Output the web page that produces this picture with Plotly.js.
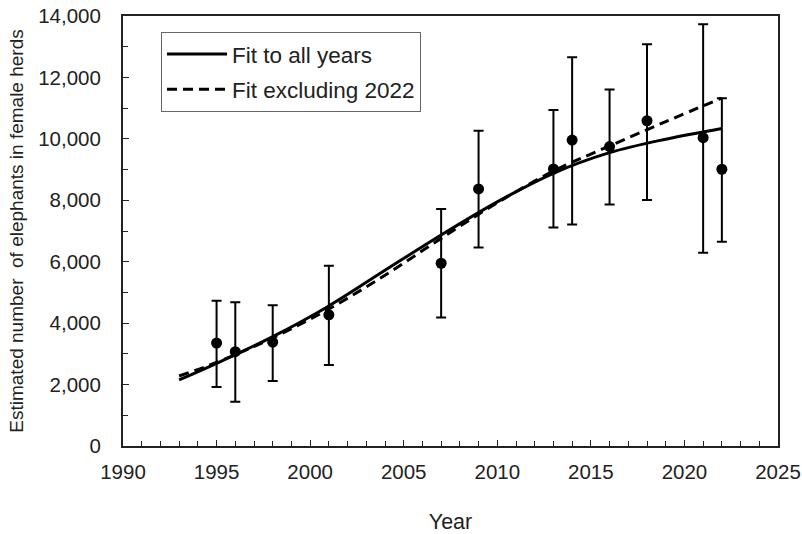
<!DOCTYPE html>
<html>
<head>
<meta charset="utf-8">
<script src="https://cdn.plot.ly/plotly-3.0.1.min.js"></script>
<style>html,body{margin:0;padding:0;background:#fff;}#chart{width:802px;height:534px;}</style>
</head>
<body>
<div id="chart"></div>
<script>
// Survey estimates
const years = [1995, 1996, 1998, 2001, 2007, 2009, 2013, 2014, 2016, 2018, 2021, 2022];
const estimates = [3350, 3070, 3380, 4270, 5950, 8370, 9020, 9960, 9750, 10590, 10040, 9010];
const upper = [4730, 4680, 4580, 5870, 7720, 10260, 10940, 12660, 11610, 13080, 13730, 11320];
const lower = [1920, 1440, 2120, 2640, 4180, 6460, 7110, 7210, 7860, 8010, 6290, 6650];

// Fitted curves
const fitYears = [1993, 1995, 1998, 2001, 2004, 2007, 2010, 2013, 2016, 2019, 2022];
const fitAll = [2150, 2690, 3560, 4560, 5720, 6870, 7950, 8880, 9550, 9990, 10340];
const fitExcl = [2280, 2720, 3520, 4460, 5560, 6760, 7920, 8950, 9770, 10560, 11330];

const xTicks = [1990, 1995, 2000, 2005, 2010, 2015, 2020, 2025];
const yTicks = [0, 2000, 4000, 6000, 8000, 10000, 12000, 14000];
const yTickText = yTicks.map(v => v.toLocaleString('en-US'));

const errPlus = upper.map((u, i) => u - estimates[i]);
const errMinus = lower.map((l, i) => estimates[i] - l);

const traces = [
  {
    x: fitYears, y: fitAll, mode: 'lines', name: 'Fit to all years', legendgroup: 'a',
    line: {color: '#000', width: 3, shape: 'spline', smoothing: 1}
  },
  {
    x: fitYears, y: fitExcl, mode: 'lines', name: 'Fit excluding 2022', legendgroup: 'b',
    line: {color: '#000', width: 3, dash: '10px,6px', shape: 'spline', smoothing: 1}
  },
  {
    x: years, y: estimates, mode: 'markers', showlegend: false,
    marker: {color: '#000', size: 11},
    error_y: {type: 'data', symmetric: false, array: errPlus, arrayminus: errMinus,
              color: '#000', thickness: 2, width: 5}
  }
];

const fam = 'Liberation Sans, Arial, sans-serif';
const ink = '#222';

const layout = {
  width: 802, height: 534,
  margin: {l: 123, r: 24, t: 16, b: 88},
  paper_bgcolor: '#fff', plot_bgcolor: '#fff',
  font: {family: fam, size: 20.5, color: ink},
  showlegend: true,
  legend: {
    x: 0.058, y: 0.963, xanchor: 'left', yanchor: 'top',
    bgcolor: '#fff', bordercolor: '#666', borderwidth: 1,
    font: {family: fam, size: 22.5, color: ink},
    tracegroupgap: 3, itemwidth: 60
  },
  xaxis: {
    range: [1990, 2025], tickvals: xTicks, ticktext: xTicks.map(String),
    tickfont: {family: fam, size: 20.5, color: ink},
    ticks: 'inside', ticklen: 6, tickwidth: 1, tickcolor: ink,
    minor: {dtick: 1, tick0: 1990, ticks: 'inside', ticklen: 5, tickcolor: ink},
    showline: true, linecolor: ink, linewidth: 2, mirror: true,
    showgrid: false, zeroline: false,
    ticklabelstandoff: 6,
    title: {text: 'Year', font: {family: fam, size: 21.5, color: ink}, standoff: 33}
  },
  yaxis: {
    range: [0, 14000], tickvals: yTicks, ticktext: yTickText,
    tickfont: {family: fam, size: 20.5, color: ink},
    ticks: 'inside', ticklen: 6, tickwidth: 1, tickcolor: ink,
    minor: {dtick: 1000, tick0: 0, ticks: 'inside', ticklen: 5, tickcolor: ink},
    showline: true, linecolor: ink, linewidth: 2, mirror: true,
    showgrid: false, zeroline: false,
    ticklabelstandoff: 16,
    title: {text: 'Estimated number  of elephants in female herds', font: {family: fam, size: 19, color: ink}, standoff: 10}
  }
};

Plotly.newPlot('chart', traces, layout, {displayModeBar: false, staticPlot: true});
</script>
</body>
</html>
